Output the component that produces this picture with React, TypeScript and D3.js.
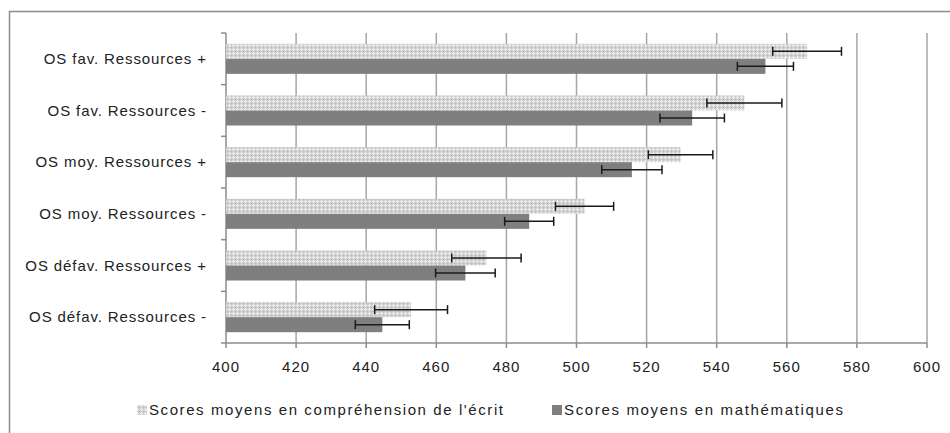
import React, { useEffect, useRef } from 'react';
import * as d3 from 'd3';

const categories = [
  'OS fav. Ressources +',
  'OS fav. Ressources -',
  'OS moy. Ressources +',
  'OS moy. Ressources -',
  'OS défav. Ressources +',
  'OS défav. Ressources -',
];
const seriesNames = [
  "Scores moyens en compréhension de l'écrit",
  'Scores moyens en mathématiques',
];
const readingScores = [565.8, 547.9, 529.7, 502.3, 474.3, 452.8];
const readingErrors = [9.8, 10.7, 9.2, 8.3, 9.9, 10.4];
const mathScores = [553.9, 533.0, 515.8, 486.5, 468.3, 444.6];
const mathErrors = [8.0, 9.2, 8.6, 7.0, 8.5, 7.7];
const xTicks = [400, 420, 440, 460, 480, 500, 520, 540, 560, 580, 600];

const FONT = '"Liberation Sans", Arial, sans-serif';

export default function App() {
  const svgRef = useRef<SVGSVGElement>(null);

  useEffect(() => {
    if (!svgRef.current) return;
    const width = 950;
    const height = 433;
    const svg = d3.select(svgRef.current);
    svg.selectAll('*').remove();

    // crosshatch pattern for the reading series
    const defs = svg.append('defs');
    const pat = defs.append('pattern')
      .attr('id', 'hatch')
      .attr('width', 4)
      .attr('height', 4)
      .attr('patternUnits', 'userSpaceOnUse');
    pat.append('rect').attr('width', 4).attr('height', 4).attr('fill', '#cdcdcd');
    pat.append('rect').attr('x', 1).attr('y', 0).attr('width', 1).attr('height', 3).attr('fill', '#ededed');
    pat.append('rect').attr('x', 0).attr('y', 1).attr('width', 3).attr('height', 1).attr('fill', '#ededed');
    pat.append('rect').attr('x', 3).attr('y', 3).attr('width', 1).attr('height', 1).attr('fill', '#bdbdbd');

    svg.append('rect').attr('width', width).attr('height', height).attr('fill', 'white');

    // outer frame
    svg.append('rect')
      .attr('x', 9.5).attr('y', 11.5)
      .attr('width', 960).attr('height', 440)
      .attr('fill', 'none')
      .attr('stroke', '#8c8c8c')
      .attr('stroke-width', 1.5);

    const x = d3.scaleLinear().domain([400, 600]).range([226, 927]);
    const y = d3.scaleBand().domain(categories).range([33, 343]).paddingInner(0).paddingOuter(0);
    const sub = d3.scaleBand().domain(seriesNames).range([0, y.bandwidth()]).paddingInner(0).paddingOuter(0.72);

    const [top, bottom] = y.range();

    // gridlines
    svg.append('g').selectAll('line')
      .data(xTicks.slice(1))
      .join('line')
      .attr('x1', d => x(d)).attr('x2', d => x(d))
      .attr('y1', top).attr('y2', bottom)
      .attr('stroke', '#a6a6a6')
      .attr('stroke-width', 1.5);

    // left axis
    const left = x(400);
    svg.append('line')
      .attr('x1', left).attr('x2', left).attr('y1', top).attr('y2', bottom)
      .attr('stroke', '#8c8c8c').attr('stroke-width', 1.5);
    const boundaries = categories.map(c => y(c)!).concat([bottom]);
    svg.append('g').selectAll('line')
      .data(boundaries)
      .join('line')
      .attr('x1', left - 5).attr('x2', left)
      .attr('y1', d => d).attr('y2', d => d)
      .attr('stroke', '#8c8c8c').attr('stroke-width', 1.5);

    // bottom axis
    svg.append('line')
      .attr('x1', left).attr('x2', x(600)).attr('y1', bottom).attr('y2', bottom)
      .attr('stroke', '#8c8c8c').attr('stroke-width', 1.5);
    svg.append('g').selectAll('line')
      .data(xTicks)
      .join('line')
      .attr('x1', d => x(d)).attr('x2', d => x(d))
      .attr('y1', bottom).attr('y2', bottom + 5)
      .attr('stroke', '#8c8c8c').attr('stroke-width', 1.5);
    svg.append('g').selectAll('text')
      .data(xTicks)
      .join('text')
      .attr('x', d => x(d))
      .attr('y', bottom + 29)
      .attr('text-anchor', 'middle')
      .attr('font-family', FONT)
      .attr('font-size', 15)
      .attr('letter-spacing', 1)
      .attr('fill', '#222')
      .text(d => d);

    // category labels
    svg.append('g').selectAll('text')
      .data(categories)
      .join('text')
      .attr('x', 207)
      .attr('y', c => y(c)! + y.bandwidth() / 2 + 5)
      .attr('text-anchor', 'end')
      .attr('font-family', FONT)
      .attr('font-size', 15)
      .attr('letter-spacing', 0.9)
      .attr('fill', '#222')
      .text(c => c);

    // bars
    const series = [
      { name: seriesNames[0], values: readingScores, errs: readingErrors, fill: 'url(#hatch)' },
      { name: seriesNames[1], values: mathScores, errs: mathErrors, fill: '#7f7f7f' },
    ];

    series.forEach(s => {
      const g = svg.append('g');
      const rows = categories.map((c, i) => ({ c, v: s.values[i], e: s.errs[i] }));
      g.selectAll('rect')
        .data(rows)
        .join('rect')
        .attr('x', left)
        .attr('y', d => y(d.c)! + sub(s.name)!)
        .attr('width', d => x(d.v) - left)
        .attr('height', sub.bandwidth())
        .attr('fill', s.fill);

      // error bars
      const eg = svg.append('g').attr('stroke', '#1a1a1a').attr('stroke-width', 1.5);
      rows.forEach(d => {
        const cy = y(d.c)! + sub(s.name)! + sub.bandwidth() / 2;
        const x0 = x(d.v - d.e);
        const x1 = x(d.v + d.e);
        eg.append('line').attr('x1', x0).attr('x2', x1).attr('y1', cy).attr('y2', cy);
        eg.append('line').attr('x1', x0).attr('x2', x0).attr('y1', cy - 4.5).attr('y2', cy + 4.5);
        eg.append('line').attr('x1', x1).attr('x2', x1).attr('y1', cy - 4.5).attr('y2', cy + 4.5);
      });
    });

    // legend
    const legendX = [137, 552];
    const legendW = [354, 279];
    series.forEach((s, i) => {
      svg.append('rect')
        .attr('x', legendX[i]).attr('y', 405)
        .attr('width', 10).attr('height', 10)
        .attr('fill', s.fill);
      svg.append('text')
        .attr('x', legendX[i] + 12)
        .attr('y', 415)
        .attr('font-family', FONT)
        .attr('font-size', 15)
        .attr('textLength', legendW[i])
        .attr('lengthAdjust', 'spacing')
        .attr('fill', '#222')
        .text(s.name);
    });
  }, []);

  return (
    <svg
      ref={svgRef}
      width={950}
      height={433}
      style={{ position: 'absolute', left: 0, top: 0, display: 'block' }}
    />
  );
}
